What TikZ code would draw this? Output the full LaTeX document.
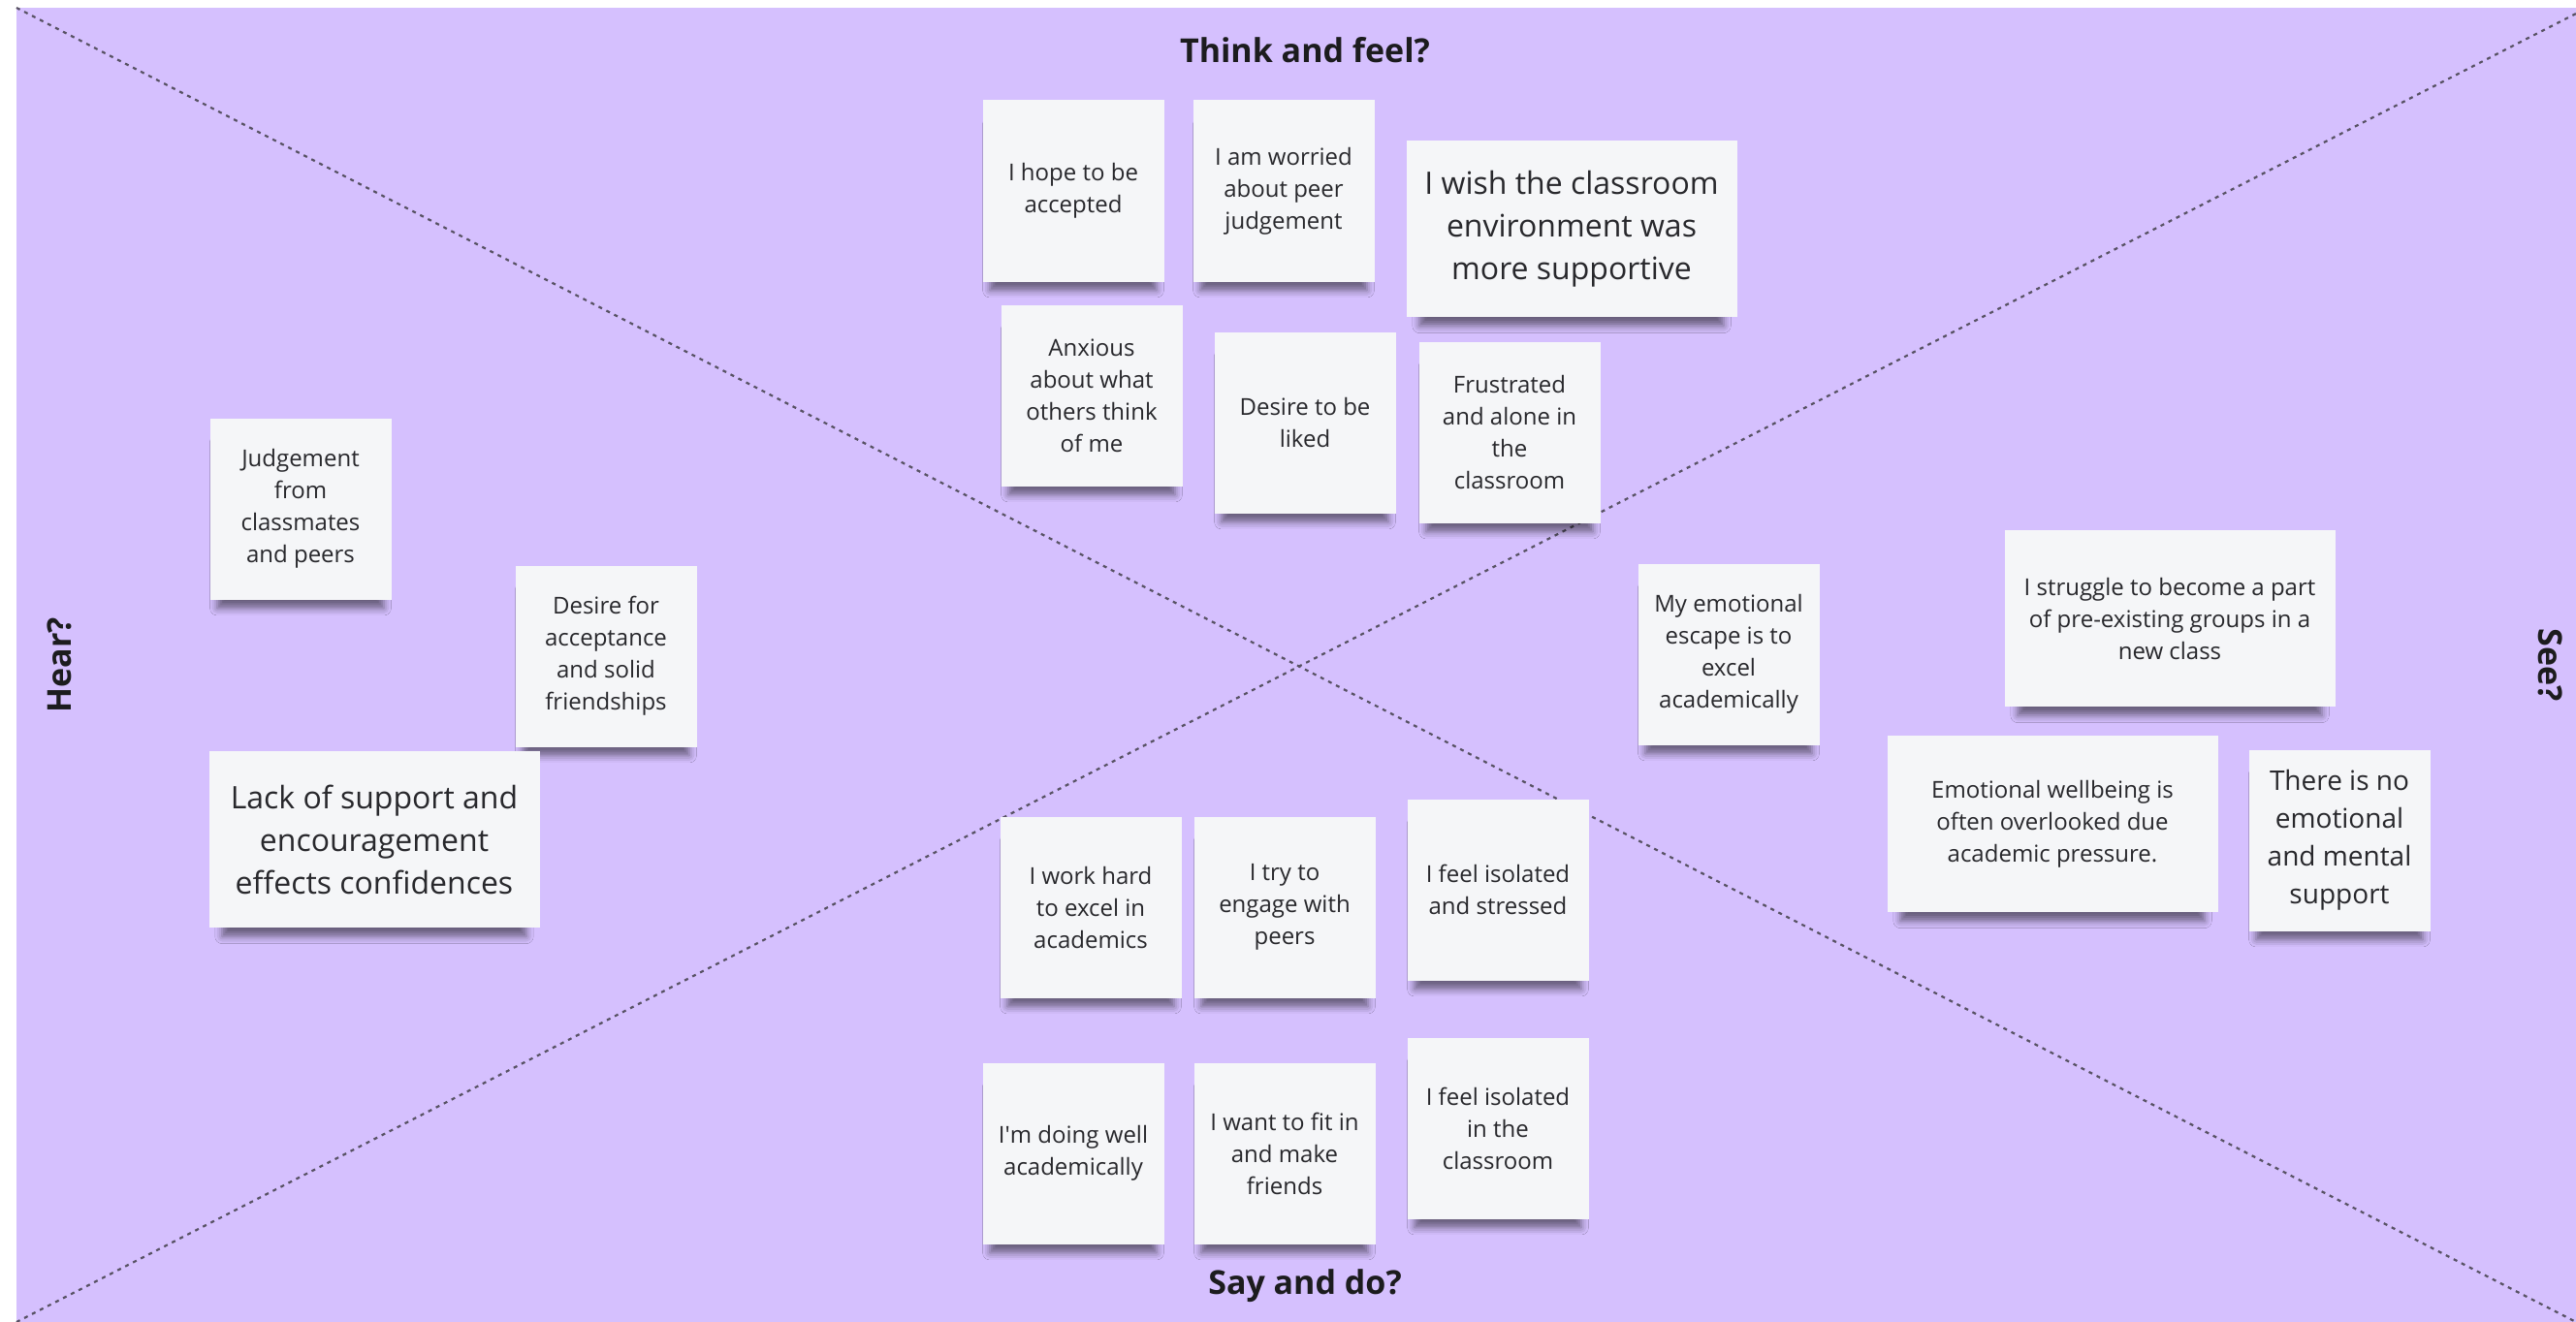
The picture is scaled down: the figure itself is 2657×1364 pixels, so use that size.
\documentclass[tikz,border=0pt]{standalone}
\usepackage{fontspec}
\setmainfont{Open Sans}
\usetikzlibrary{shadows.blur}

\definecolor{boardviolet}{RGB}{213,192,254}
\definecolor{notepaper}{RGB}{245,246,248}
\definecolor{noteink}{RGB}{40,40,44}
\definecolor{headink}{RGB}{28,28,30}
\definecolor{splitgray}{RGB}{88,82,100}

\tikzset{
  note/.style={
    fill=notepaper, inner sep=0pt, align=center, text=noteink,
    minimum width=187pt, minimum height=187pt,
    font=\fontsize{24}{33}\selectfont,
    blur shadow={shadow xshift=0pt, shadow yshift=-18pt, shadow scale=0.92,
                 shadow blur radius=8pt, shadow opacity=50}
  },
  widenote/.style={note, minimum width=341pt, minimum height=182pt},
  bignote/.style={font=\fontsize{32}{44}\selectfont},
  heading/.style={font=\bfseries\fontsize{34}{40}\selectfont, text=headink, inner sep=0pt},
  splitter/.style={draw=splitgray, line width=2.2pt, dash pattern=on 4pt off 5pt}
}

\begin{document}
\begin{tikzpicture}[x=1pt, y=-1pt]
  \useasboundingbox (0,0) rectangle (2657,1364);
  \fill[white] (0,0) rectangle (2657,1364);

  % board and its two diagonals
  \fill[boardviolet] (17,8) rectangle (2657,1364);
  \coordinate (cornerTL) at (17,8);
  \coordinate (cornerBR) at (2657,1364);
  \coordinate (cornerBL) at (17,1364);
  \coordinate (cornerTR) at (2657,14);
  \draw[splitter] (cornerTL) -- (cornerBR);
  \draw[splitter] (cornerBL) -- (cornerTR);

  % quadrant headings
  \node[heading, anchor=base] (think) at (1346,65) {Think and feel?};
  \node[heading, anchor=base] (say) at (1346,1335) {Say and do?};
  \node[heading, anchor=base, rotate=90] (hear) at (73,686) {Hear?};
  \node[heading, anchor=base, rotate=-90] (see) at (2618,686) {See?};

  % think and feel
  \node[note] (hope) at (1107,197) {I hope to be\\accepted};
  \node[note] (worried) at (1324,197) {I am worried\\about peer\\judgement};
  \node[widenote, bignote] (wish) at (1621,236) {I wish the classroom\\environment was\\more supportive};
  \node[note] (anxious) at (1126,408) {Anxious\\about what\\others think\\of me};
  \node[note] (liked) at (1346,436) {Desire to be\\liked};
  \node[note] (frustrated) at (1557,446) {Frustrated\\and alone in\\the\\classroom};

  % hear
  \node[note] (judgement) at (310,525) {Judgement\\from\\classmates\\and peers};
  \node[note] (acceptance) at (625,677) {Desire for\\acceptance\\and solid\\friendships};
  \node[widenote, bignote] (lack) at (386,866) {Lack of support and\\encouragement\\effects confidences};

  % see
  \node[note] (escape) at (1783,675) {My emotional\\escape is to\\excel\\academically};
  \node[widenote] (struggle) at (2238,638) {I struggle to become a part\\of pre-existing groups in a\\new class};
  \node[widenote] (wellbeing) at (2117,850) {Emotional wellbeing is\\often overlooked due\\academic pressure.};
  \node[note, font=\fontsize{28}{39}\selectfont] (nosupport) at (2413,867) {There is no\\emotional\\and mental\\support};

  % say and do
  \node[note] (workhard) at (1125,936) {I work hard\\to excel in\\academics};
  \node[note] (engage) at (1325,936) {I try to\\engage with\\peers};
  \node[note] (stressed) at (1545,918) {I feel isolated\\and stressed};
  \node[note] (doingwell) at (1107,1190) {I\textquotesingle m doing well\\academically};
  \node[note] (fitin) at (1325,1190) {I want to fit in\\and make\\friends};
  \node[note] (isolated) at (1545,1164) {I feel isolated\\in the\\classroom};
\end{tikzpicture}
\end{document}
